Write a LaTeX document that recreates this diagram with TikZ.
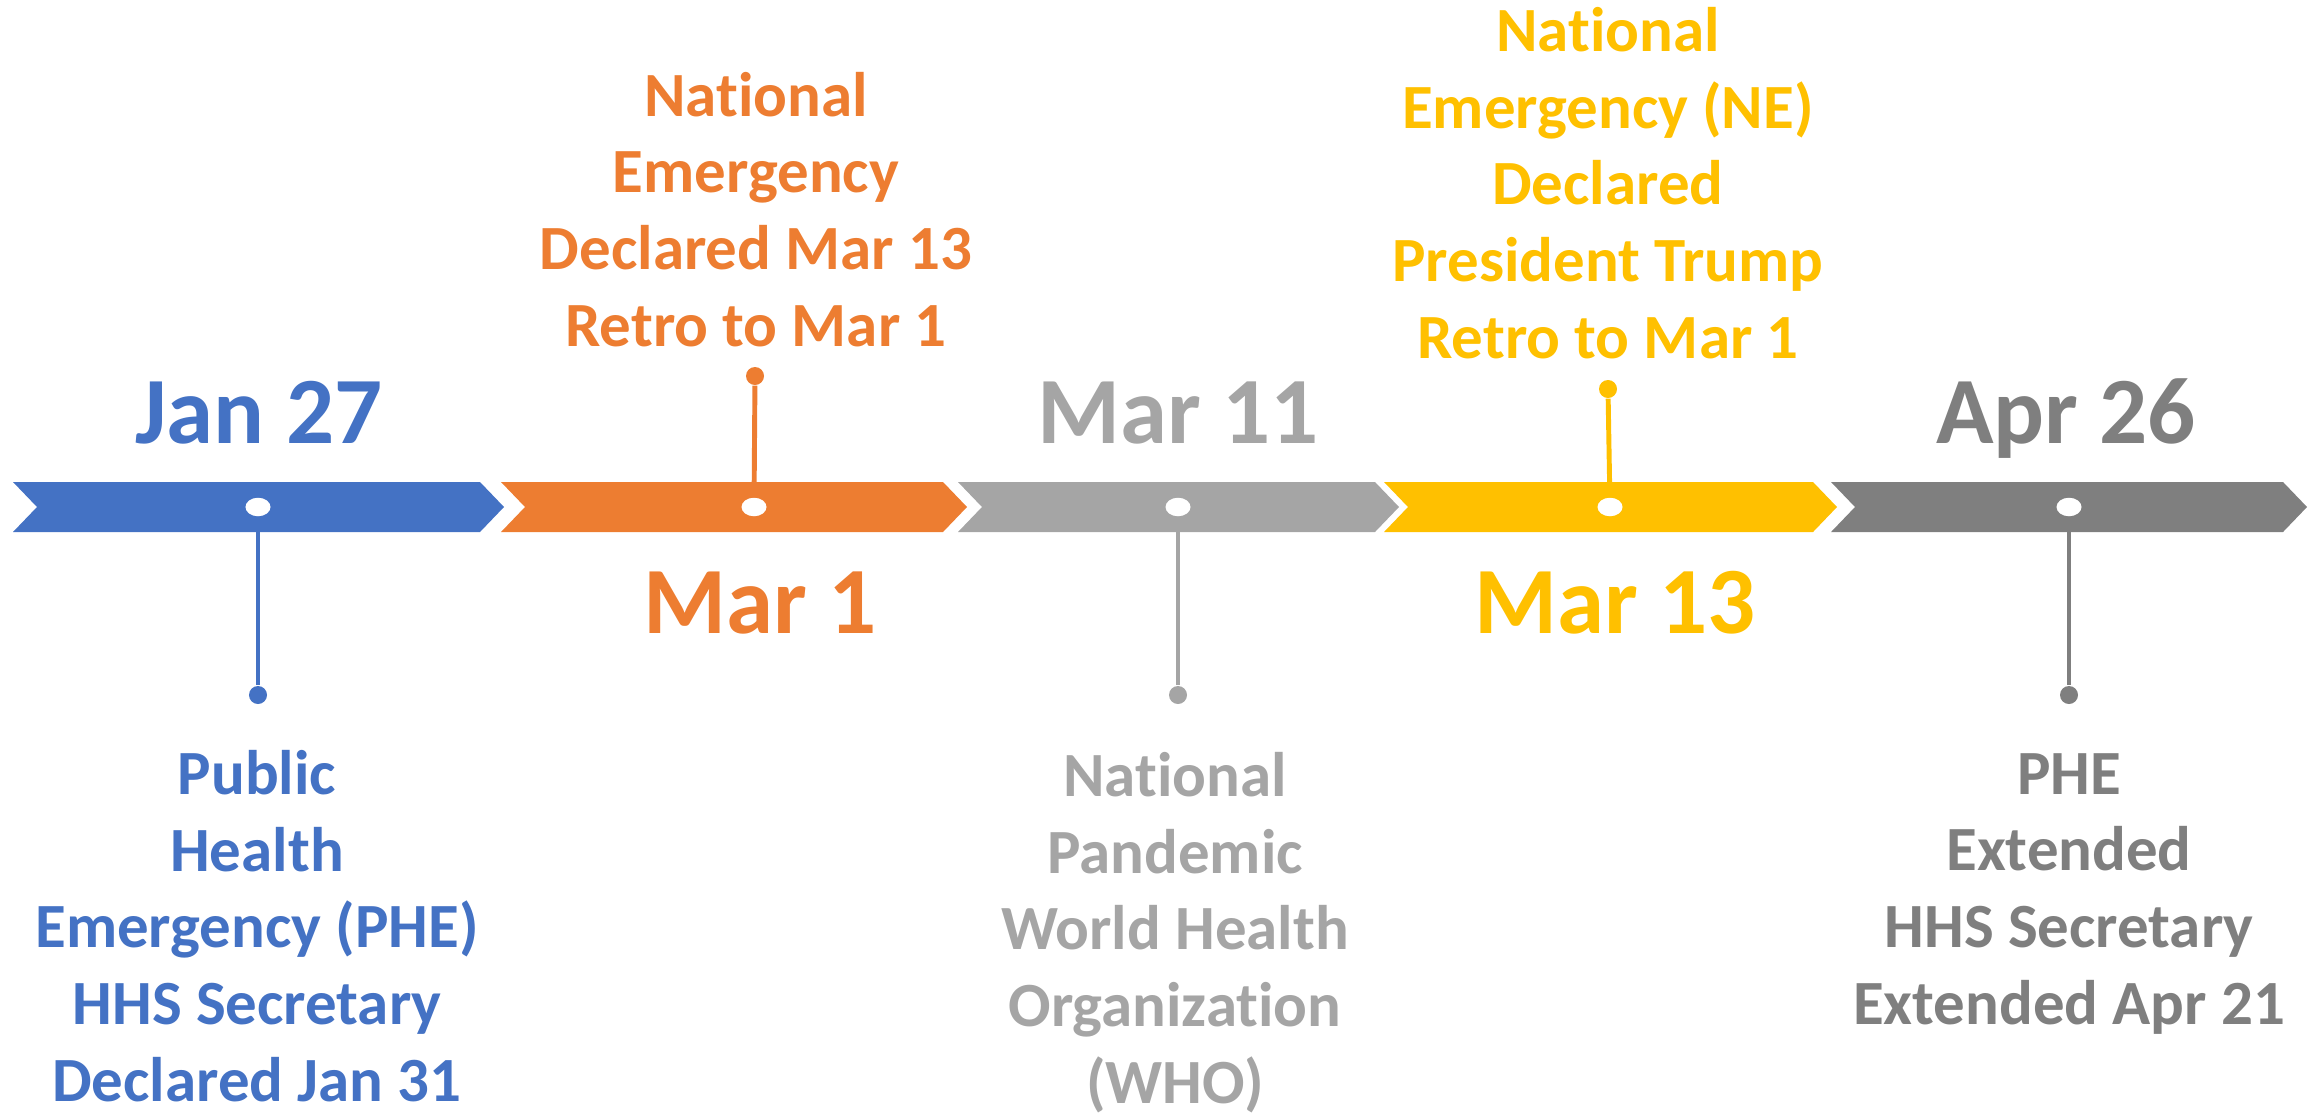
\documentclass[tikz,border=0pt]{standalone}
\usepackage{fontspec}
\setmainfont{Carlito}[Ligatures=NoCommon]
\usetikzlibrary{shapes.geometric}

\definecolor{tlblue}{HTML}{4472C4}
\definecolor{tlorange}{HTML}{ED7D31}
\definecolor{tllight}{HTML}{A5A5A5}
\definecolor{tlyellow}{HTML}{FFC000}
\definecolor{tldark}{HTML}{7F7F7F}

\tikzset{
  datelabel/.style={font=\fontsize{27pt}{32pt}\selectfont\bfseries, anchor=base, inner sep=0pt},
  notelabel/.style={font=\fontsize{17.9pt}{21.8pt}\selectfont\bfseries, align=center, anchor=base, inner sep=0pt},
  banddot/.style={ellipse, fill=white, minimum width=0.25cm, minimum height=0.185cm, inner sep=0pt},
  enddot/.style={circle, fill=#1, minimum size=0.18cm, inner sep=0pt},
  stemline/.style={draw=#1, line width=1.4pt}
}

\begin{document}
\begin{tikzpicture}[x=0.01cm, y=-0.01cm]
\useasboundingbox (0,0) rectangle (2321,1115);

% chevron band
\foreach \l/\r/\c in {13/480/tlblue, 501/943/tlorange, 958/1375/tllight, 1384/1813/tlyellow, 1831/2283/tldark}
  \fill[\c] (\l,482) -- (\r,482) -- (\r+24,507) -- (\r,532) -- (\l,532) -- (\l+24,507) -- cycle;

% dots on the band
\node[banddot] (jan) at (258,507) {};
\node[banddot] (mar1) at (754,507) {};
\node[banddot] (mar11) at (1178,507) {};
\node[banddot] (mar13) at (1610,507) {};
\node[banddot] (apr) at (2069,507) {};

% stem ends
\node[enddot=tlblue] (janend) at (258,695) {};
\node[enddot=tlorange] (mar1end) at (755,376) {};
\node[enddot=tllight] (mar11end) at (1178,695) {};
\node[enddot=tlyellow] (mar13end) at (1608,389) {};
\node[enddot=tldark] (aprend) at (2069,695) {};

\draw[stemline=tlblue] (jan) -- (janend);
\draw[stemline=tlorange] (mar1) -- (mar1end);
\draw[stemline=tllight] (mar11) -- (mar11end);
\draw[stemline=tlyellow] (mar13) -- (mar13end);
\draw[stemline=tldark] (apr) -- (aprend);

% dates
\node[datelabel, tlblue] (jandate) at (259,443) {Jan 27};
\node[datelabel, tlorange] (mar1date) at (760,633) {Mar 1};
\node[datelabel, tllight] (mar11date) at (1178,443) {Mar 11};
\node[datelabel, tlyellow] (mar13date) at (1615,633) {Mar 13};
\node[datelabel, tldark] (aprdate) at (2066,443) {Apr 26};

% notes (anchored on the last line)
\node[notelabel, tlblue] (jannote) at (257,1101) {Public\\Health\\Emergency (PHE)\\HHS Secretary\\Declared Jan 31};
\node[notelabel, tlorange] (mar1note) at (756,346) {National\\Emergency\\Declared Mar 13\\Retro to Mar 1};
\node[notelabel, tllight] (mar11note) at (1175,1103) {National\\Pandemic\\World Health\\Organization\\(WHO)};
\node[notelabel, tlyellow] (mar13note) at (1608,358) {National\\Emergency (NE)\\Declared\\President Trump\\Retro to Mar 1};
\node[notelabel, tldark] (aprnote) at (2069,1024) {PHE\\Extended\\HHS Secretary\\Extended Apr 21};
\end{tikzpicture}
\end{document}
